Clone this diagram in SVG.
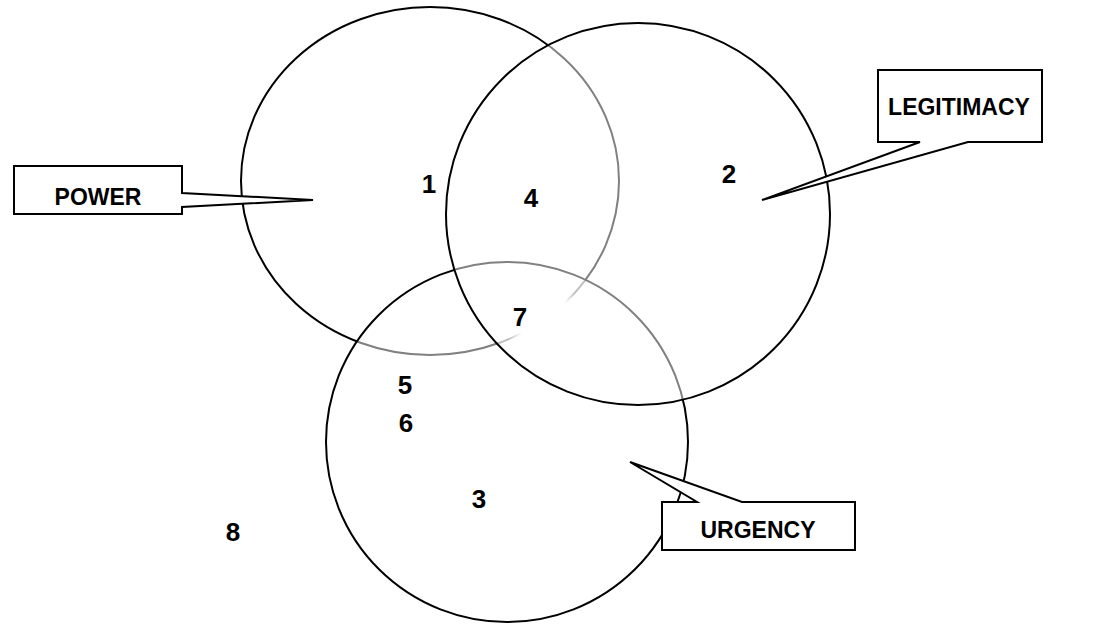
<svg xmlns="http://www.w3.org/2000/svg" width="1098" height="626" viewBox="0 0 1098 626">
<style>
.set{stroke:#000;stroke-width:2}
.veil{fill:#fff;fill-opacity:0.5}
.call{fill:#fff;stroke:#000;stroke-width:2;stroke-linejoin:miter}
.lbl{font-family:"Liberation Sans",Arial,sans-serif;font-weight:bold;font-size:23px;fill:#000;text-anchor:middle}
.num{font-family:"Liberation Sans",Arial,sans-serif;font-weight:bold;font-size:26px;fill:#000;text-anchor:middle}
</style>
<defs>
<radialGradient id="fade" cx="0.5" cy="0.5" r="0.5">
<stop offset="0" stop-color="#fff" stop-opacity="1"/>
<stop offset="0.65" stop-color="#fff" stop-opacity="1"/>
<stop offset="1" stop-color="#fff" stop-opacity="0"/>
</radialGradient>
</defs>
<rect width="1098" height="626" fill="#fff"/>
<g id="power">
<ellipse class="set" cx="430" cy="181" rx="189" ry="174" fill="none"/>
</g>
<circle cx="543" cy="318" r="40" fill="url(#fade)"/>
<g id="urgency">
<ellipse class="set veil" cx="507" cy="442" rx="181" ry="180"/>
</g>
<g id="legitimacy">
<ellipse class="set veil" cx="638" cy="214" rx="192" ry="191"/>
</g>
<g id="callout-power">
<path class="call" d="M14,166 H182 V193 L313,200 L182,207 V214 H14 Z"/>
<text class="lbl" x="98" y="205">POWER</text>
</g>
<g id="callout-legitimacy">
<path class="call" d="M878,70 H1042 V142 H968 L762,200 L920,142 H878 Z"/>
<text class="lbl" x="959" y="115">LEGITIMACY</text>
</g>
<g id="callout-urgency">
<path class="call" d="M662,502 H697 L630,462 L742,502 H855 V550 H662 Z"/>
<text class="lbl" x="758" y="538">URGENCY</text>
</g>
<g id="labels">
<text class="num" x="429" y="193">1</text>
<text class="num" x="729" y="183">2</text>
<text class="num" x="531" y="207">4</text>
<text class="num" x="520" y="326">7</text>
<text class="num" x="405" y="394">5</text>
<text class="num" x="406" y="432">6</text>
<text class="num" x="479" y="508">3</text>
<text class="num" x="233" y="541">8</text>
</g>
</svg>
